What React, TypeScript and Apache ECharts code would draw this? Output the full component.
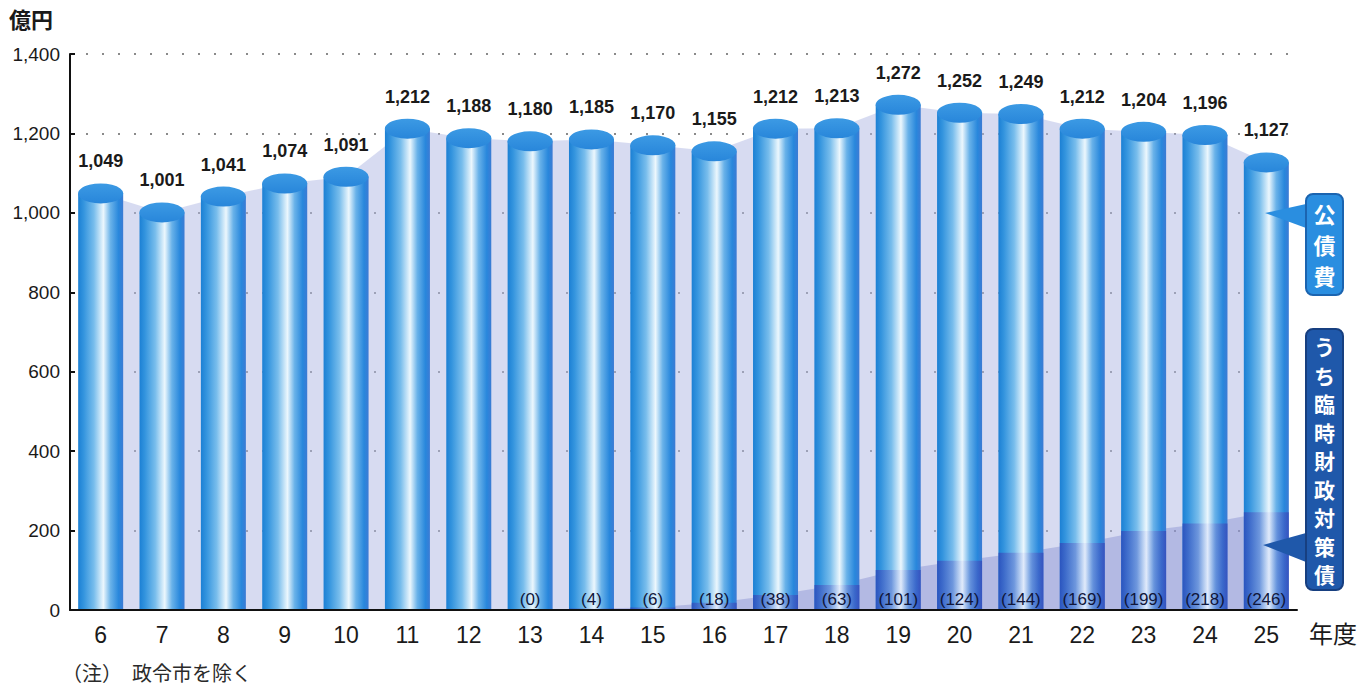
import React, { useEffect, useRef } from "react";
import * as echarts from "echarts";

// 年度
const years = ["6", "7", "8", "9", "10", "11", "12", "13", "14", "15", "16", "17", "18", "19", "20", "21", "22", "23", "24", "25"];
// 公債費（億円）
const kousaihi = [1049, 1001, 1041, 1074, 1091, 1212, 1188, 1180, 1185, 1170, 1155, 1212, 1213, 1272, 1252, 1249, 1212, 1204, 1196, 1127];
// うち臨時財政対策債（億円）
const rinzaisai = [null, null, null, null, null, null, null, 0, 4, 6, 18, 38, 63, 101, 124, 144, 169, 199, 218, 246];
// 縦軸
const yMin = 0;
const yMax = 1400;
const yStep = 200;
// 吹き出しの文字
const calloutDebt = "公債費";
const calloutRinzai = "うち臨時財政対策債";

const NUM_FONT = "'Liberation Sans Narrow','Liberation Sans',Arial,sans-serif";
const JP_FONT = "'Noto Sans CJK JP','Noto Sans',sans-serif";

const fmt = (v: number) => v.toLocaleString("en-US");

// 縦書きの文字を一文字ずつ並べる
const verticalText = (text: string, cx: number, top: number, step: number, size: number) =>
  Array.from(text).map((ch, i) => ({
    type: "text",
    x: cx,
    y: top + i * step,
    style: {
      text: ch,
      fontSize: size,
      fontWeight: "bold",
      fill: "#ffffff",
      align: "center",
      verticalAlign: "middle",
      fontFamily: JP_FONT,
    },
    z: 22,
  }));

export default function App() {
  const ref = useRef<HTMLDivElement>(null);

  useEffect(() => {
    if (!ref.current) return;
    const chart = echarts.init(ref.current, null, { renderer: "svg" });

    const bodyGradient = new echarts.graphic.LinearGradient(0, 0, 1, 0, [
      { offset: 0, color: "#1c80d4" },
      { offset: 0.12, color: "#3394de" },
      { offset: 0.35, color: "#78bdec" },
      { offset: 0.56, color: "#ecf7fd" },
      { offset: 0.72, color: "#69b2e9" },
      { offset: 0.9, color: "#2887dc" },
      { offset: 1, color: "#3c7bd4" },
    ]);
    const lowerGradient = new echarts.graphic.LinearGradient(0, 0, 1, 0, [
      { offset: 0, color: "rgba(50,62,180,0.66)" },
      { offset: 0.35, color: "rgba(100,110,205,0.48)" },
      { offset: 0.56, color: "rgba(200,205,245,0.30)" },
      { offset: 0.75, color: "rgba(100,110,205,0.48)" },
      { offset: 1, color: "rgba(50,62,180,0.66)" },
    ]);
    const topGradient = new echarts.graphic.LinearGradient(0, 0, 0, 1, [
      { offset: 0, color: "#3c9ae4" },
      { offset: 1, color: "#2886da" },
    ]);

    chart.setOption({
      animation: false,
      grid: { left: 70, right: 75, top: 54, bottom: 80 },
      xAxis: {
        type: "category",
        data: years,
        boundaryGap: true,
        axisLine: { lineStyle: { color: "#111", width: 2 } },
        axisTick: { inside: true, length: 9, lineStyle: { color: "#222", width: 2 } },
        axisLabel: { fontSize: 23, color: "#1a1a1a", margin: 13, fontFamily: "'Liberation Sans',Arial,sans-serif" },
        z: 10,
      },
      yAxis: {
        type: "value",
        min: yMin,
        max: yMax,
        interval: yStep,
        axisLine: { show: true, lineStyle: { color: "#111", width: 2 } },
        axisTick: { show: true, inside: true, length: 5, lineStyle: { color: "#111", width: 2 } },
        axisLabel: {
          fontSize: 19,
          color: "#1a1a1a",
          margin: 10,
          fontFamily: NUM_FONT,
          formatter: (v: number) => fmt(v),
        },
        splitLine: { show: true, lineStyle: { color: "#8a8a8a", type: [2, 14], width: 2 } },
      },
      series: [
        {
          // 公債費の背景面
          type: "line",
          data: kousaihi,
          symbol: "none",
          lineStyle: { width: 0 },
          areaStyle: { color: "rgba(176,183,228,0.72)", origin: "start" },
          z: 1,
          silent: true,
        },
        {
          // 臨時財政対策債の背景面
          type: "line",
          data: rinzaisai,
          symbol: "none",
          lineStyle: { width: 0 },
          areaStyle: { color: "rgba(110,118,200,0.48)", origin: "start" },
          z: 2,
          silent: true,
        },
        {
          // 公債費（円柱の胴）
          type: "bar",
          data: kousaihi,
          barWidth: 45,
          barGap: "-100%",
          itemStyle: { color: bodyGradient },
          label: {
            show: true,
            position: "top",
            distance: 23,
            fontSize: 18,
            fontWeight: "bold",
            color: "#1a1a1a",
            fontFamily: NUM_FONT,
            formatter: (p: any) => fmt(p.value),
          },
          z: 3,
        },
        {
          // うち臨時財政対策債
          type: "bar",
          data: rinzaisai,
          barWidth: 45,
          barGap: "-100%",
          itemStyle: { color: lowerGradient },
          label: {
            show: true,
            position: "insideBottom",
            distance: 2,
            fontSize: 17,
            color: "#10163a",
            fontFamily: NUM_FONT,
            formatter: (p: any) => `(${p.value})`,
          },
          z: 4,
        },
        {
          // 円柱の上面
          type: "pictorialBar",
          data: kousaihi,
          symbol: "circle",
          symbolSize: [45, 20],
          symbolPosition: "end",
          symbolOffset: [0, "-50%"],
          itemStyle: { color: topGradient },
          z: 5,
          silent: true,
        },
      ],
      graphic: [
        {
          type: "text",
          left: 9,
          top: 7,
          style: { text: "億円", fontSize: 22, fontWeight: "bold", fill: "#1a1a1a", fontFamily: JP_FONT },
        },
        {
          type: "text",
          left: 1309,
          top: 620,
          style: { text: "年度", fontSize: 24, fill: "#1a1a1a", fontFamily: JP_FONT },
        },
        {
          type: "text",
          left: 62,
          top: 662,
          style: { text: "（注）　政令市を除く", fontSize: 20, fill: "#2a2a2a", fontFamily: JP_FONT },
        },
        // 公債費の吹き出し
        {
          type: "polygon",
          shape: { points: [[1306, 204], [1265, 213], [1306, 228]] },
          style: { fill: "#2a8ee0" },
          z: 20,
        },
        {
          type: "rect",
          shape: { x: 1306, y: 194, width: 37, height: 101, r: 7 },
          style: { fill: "#2a8ee0", stroke: "#1b64b0", lineWidth: 2 },
          z: 21,
        },
        ...verticalText(calloutDebt, 1324.5, 213, 31, 22),
        // うち臨時財政対策債の吹き出し
        {
          type: "polygon",
          shape: { points: [[1306, 533], [1263, 545], [1306, 562]] },
          style: { fill: "#1f58aa" },
          z: 20,
        },
        {
          type: "rect",
          shape: { x: 1306, y: 329, width: 37, height: 261, r: 7 },
          style: { fill: "#1f58aa", stroke: "#173f80", lineWidth: 2 },
          z: 21,
        },
        ...verticalText(calloutRinzai, 1324.5, 346, 28.5, 21),
      ],
    });

    return () => chart.dispose();
  }, []);

  return (
    <div
      ref={ref}
      style={{ position: "fixed", left: 0, top: 0, width: 1372, height: 690, background: "#ffffff" }}
    />
  );
}
